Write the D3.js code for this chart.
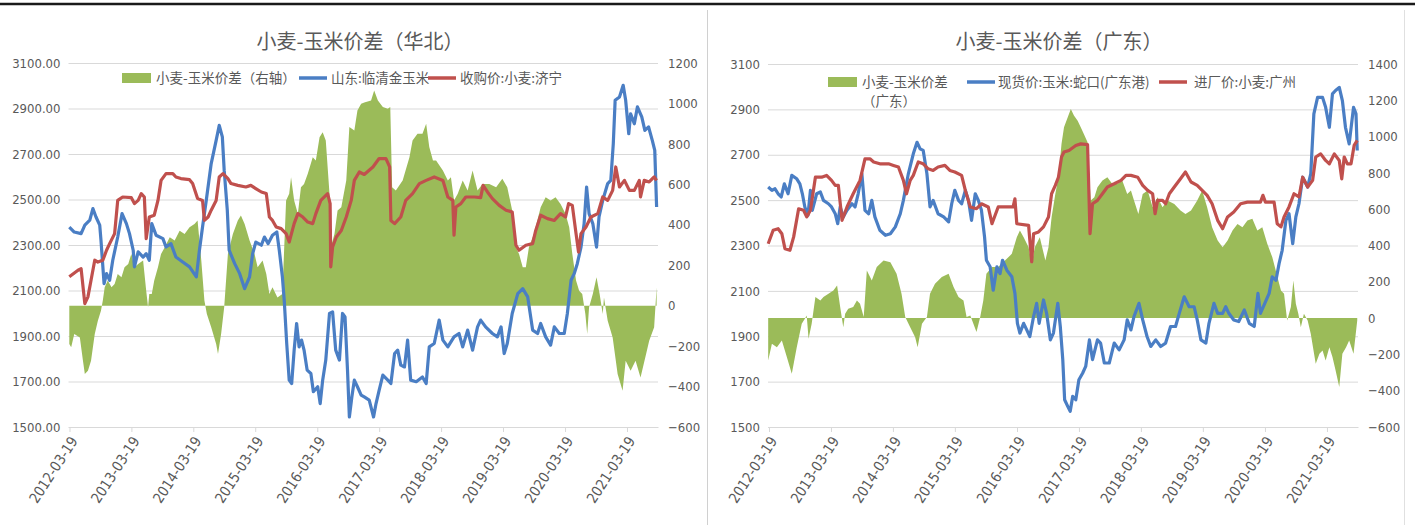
<!DOCTYPE html>
<html><head><meta charset="utf-8">
<script src="https://cdn.jsdelivr.net/npm/d3@7"></script>
<style>
body{margin:0;background:#fff;}
svg text{font-family:"Liberation Sans Narrow","DejaVu Sans Condensed","Liberation Sans",sans-serif;fill:#595959;}
svg text.cjk{font-family:"Noto Sans CJK SC",sans-serif;}
</style></head><body>
<svg id="c" width="1415" height="525"></svg>
<script>
// ---------- tick labels ----------
const xTickLabels = ["2012-03-19","2013-03-19","2014-03-19","2015-03-19","2016-03-19","2017-03-19","2018-03-19","2019-03-19","2020-03-19","2021-03-19"];
const xStart = "2012-03-19", xEnd = "2021-09-18";
const hbLeftTicks = [1500,1700,1900,2100,2300,2500,2700,2900,3100];
const hbRightTicks = [-600,-400,-200,0,200,400,600,800,1000,1200];
const gdLeftTicks = [1500,1700,1900,2100,2300,2500,2700,2900,3100];
const gdRightTicks = [-600,-400,-200,0,200,400,600,800,1000,1200,1400];

// ---------- 华北 (left chart): [decimal year, value] ----------
const hbSpread = [[2012.21,-190],[2012.24,-206],[2012.29,-140],[2012.38,-157],[2012.43,-272],[2012.46,-338],[2012.51,-322],[2012.56,-272],[2012.62,-140],[2012.67,-74],[2012.72,-25],[2012.75,25],[2012.78,91],[2012.83,124],[2012.89,91],[2012.94,107],[2012.99,157],[2013.05,140],[2013.10,190],[2013.16,206],[2013.21,256],[2013.26,190],[2013.32,206],[2013.40,223],[2013.45,74],[2013.48,-8],[2013.50,58],[2013.54,58],[2013.58,124],[2013.64,190],[2013.69,256],[2013.75,289],[2013.83,338],[2013.91,322],[2013.99,371],[2014.07,355],[2014.15,388],[2014.23,404],[2014.28,421],[2014.34,223],[2014.39,25],[2014.43,-41],[2014.50,-107],[2014.58,-190],[2014.61,-239],[2014.66,-140],[2014.71,-8],[2014.77,256],[2014.85,355],[2014.93,421],[2014.98,446],[2015.04,404],[2015.12,322],[2015.20,256],[2015.25,190],[2015.33,223],[2015.39,157],[2015.44,58],[2015.49,91],[2015.57,41],[2015.65,58],[2015.71,520],[2015.76,553],[2015.79,635],[2015.84,520],[2015.90,454],[2015.95,586],[2016.00,602],[2016.06,652],[2016.14,734],[2016.19,718],[2016.25,833],[2016.30,858],[2016.35,817],[2016.41,553],[2016.43,289],[2016.49,355],[2016.54,470],[2016.60,487],[2016.68,619],[2016.73,883],[2016.81,866],[2016.86,965],[2016.92,998],[2016.97,1005],[2017.08,1015],[2017.13,1064],[2017.19,1015],[2017.27,982],[2017.35,974],[2017.39,982],[2017.42,586],[2017.48,569],[2017.59,619],[2017.70,734],[2017.75,817],[2017.83,850],[2017.91,850],[2017.97,899],[2018.02,784],[2018.08,718],[2018.13,718],[2018.24,668],[2018.32,619],[2018.37,635],[2018.42,520],[2018.48,553],[2018.56,619],[2018.64,569],[2018.72,668],[2018.80,569],[2018.88,602],[2018.99,602],[2019.10,586],[2019.20,627],[2019.28,586],[2019.36,470],[2019.42,289],[2019.47,256],[2019.53,190],[2019.58,190],[2019.63,289],[2019.71,355],[2019.82,487],[2019.90,536],[2019.98,520],[2020.06,536],[2020.14,503],[2020.22,454],[2020.28,388],[2020.33,256],[2020.39,124],[2020.44,74],[2020.49,58],[2020.54,-41],[2020.57,-140],[2020.60,-8],[2020.66,58],[2020.72,140],[2020.77,58],[2020.82,-41],[2020.84,41],[2020.90,-74],[2020.98,-157],[2021.06,-338],[2021.14,-421],[2021.19,-272],[2021.27,-322],[2021.35,-272],[2021.43,-355],[2021.52,-239],[2021.57,-173],[2021.65,-107],[2021.69,91]];

const hbCorn = [[2012.21,2379],[2012.29,2357],[2012.40,2350],[2012.46,2387],[2012.54,2409],[2012.59,2460],[2012.64,2423],[2012.70,2387],[2012.72,2321],[2012.77,2130],[2012.81,2174],[2012.86,2145],[2012.91,2233],[2012.99,2335],[2013.06,2438],[2013.13,2394],[2013.18,2350],[2013.24,2277],[2013.26,2204],[2013.32,2270],[2013.40,2247],[2013.45,2262],[2013.50,2233],[2013.54,2394],[2013.61,2343],[2013.72,2328],[2013.77,2291],[2013.85,2306],[2013.93,2247],[2014.04,2225],[2014.15,2204],[2014.26,2160],[2014.31,2277],[2014.36,2379],[2014.42,2496],[2014.50,2658],[2014.58,2760],[2014.63,2826],[2014.68,2775],[2014.71,2628],[2014.76,2453],[2014.79,2277],[2014.88,2218],[2014.96,2174],[2015.04,2108],[2015.12,2160],[2015.17,2262],[2015.22,2313],[2015.31,2299],[2015.36,2335],[2015.42,2306],[2015.49,2343],[2015.56,2357],[2015.60,2277],[2015.65,2160],[2015.68,2057],[2015.72,1867],[2015.76,1706],[2015.80,1691],[2015.84,1838],[2015.88,1955],[2015.92,1852],[2015.96,1882],[2016.00,1838],[2016.05,1750],[2016.11,1735],[2016.15,1655],[2016.22,1677],[2016.26,1603],[2016.30,1706],[2016.35,1794],[2016.41,1999],[2016.46,2006],[2016.51,1838],[2016.57,1794],[2016.62,1999],[2016.66,1984],[2016.70,1750],[2016.73,1544],[2016.77,1632],[2016.81,1706],[2016.86,1677],[2016.92,1640],[2016.97,1632],[2017.05,1618],[2017.12,1544],[2017.16,1603],[2017.21,1661],[2017.27,1728],[2017.35,1706],[2017.40,1691],[2017.46,1823],[2017.51,1838],[2017.56,1772],[2017.62,1764],[2017.67,1882],[2017.72,1706],[2017.81,1699],[2017.91,1720],[2017.97,1691],[2018.02,1852],[2018.10,1867],[2018.18,1970],[2018.24,1882],[2018.32,1852],[2018.42,1896],[2018.50,1911],[2018.56,1852],[2018.64,1926],[2018.72,1838],[2018.80,1940],[2018.85,1970],[2018.93,1940],[2019.04,1911],[2019.12,1896],[2019.18,1940],[2019.23,1823],[2019.28,1867],[2019.36,1999],[2019.45,2086],[2019.53,2108],[2019.61,2072],[2019.69,1926],[2019.77,1911],[2019.82,1955],[2019.90,1896],[2019.98,1860],[2020.04,1940],[2020.12,1911],[2020.20,1911],[2020.25,1999],[2020.31,2145],[2020.36,2174],[2020.41,2218],[2020.47,2291],[2020.52,2394],[2020.56,2555],[2020.60,2438],[2020.66,2394],[2020.72,2291],[2020.76,2423],[2020.82,2496],[2020.90,2570],[2020.95,2584],[2020.99,2745],[2021.02,2936],[2021.09,2951],[2021.15,3002],[2021.19,2936],[2021.24,2789],[2021.27,2877],[2021.33,2833],[2021.38,2907],[2021.45,2863],[2021.50,2804],[2021.56,2819],[2021.62,2760],[2021.66,2716],[2021.69,2467]];

const hbWheat = [[2012.21,2160],[2012.35,2189],[2012.40,2196],[2012.46,2042],[2012.51,2072],[2012.56,2145],[2012.62,2233],[2012.67,2225],[2012.75,2233],[2012.81,2277],[2012.86,2306],[2012.94,2350],[2012.99,2496],[2013.07,2511],[2013.21,2508],[2013.26,2482],[2013.32,2496],[2013.37,2526],[2013.42,2511],[2013.45,2328],[2013.50,2423],[2013.58,2431],[2013.64,2496],[2013.69,2584],[2013.77,2614],[2013.88,2614],[2013.93,2599],[2014.01,2592],[2014.15,2587],[2014.20,2570],[2014.28,2504],[2014.36,2496],[2014.39,2408],[2014.45,2423],[2014.50,2453],[2014.58,2496],[2014.63,2599],[2014.69,2614],[2014.77,2592],[2014.82,2570],[2014.93,2562],[2015.06,2555],[2015.14,2562],[2015.22,2548],[2015.31,2533],[2015.39,2526],[2015.44,2423],[2015.49,2408],[2015.55,2379],[2015.63,2372],[2015.71,2350],[2015.76,2313],[2015.84,2394],[2015.90,2438],[2015.98,2423],[2016.06,2401],[2016.14,2394],[2016.19,2438],[2016.27,2496],[2016.38,2526],[2016.42,2482],[2016.43,2204],[2016.46,2291],[2016.52,2335],[2016.60,2364],[2016.68,2423],[2016.76,2496],[2016.81,2584],[2016.89,2621],[2016.97,2610],[2017.11,2643],[2017.21,2680],[2017.32,2680],[2017.38,2643],[2017.40,2408],[2017.46,2394],[2017.56,2423],[2017.64,2496],[2017.75,2526],[2017.86,2570],[2017.97,2584],[2018.10,2599],[2018.24,2584],[2018.32,2511],[2018.40,2496],[2018.42,2343],[2018.45,2467],[2018.53,2482],[2018.61,2511],[2018.75,2511],[2018.85,2508],[2018.89,2562],[2018.96,2533],[2019.04,2504],[2019.15,2474],[2019.26,2453],[2019.36,2445],[2019.42,2299],[2019.47,2277],[2019.58,2299],[2019.69,2306],[2019.74,2364],[2019.82,2431],[2019.93,2416],[2020.04,2408],[2020.14,2438],[2020.22,2423],[2020.27,2482],[2020.33,2474],[2020.39,2350],[2020.43,2269],[2020.47,2350],[2020.55,2379],[2020.63,2423],[2020.74,2438],[2020.82,2511],[2020.90,2496],[2020.98,2540],[2021.03,2643],[2021.09,2555],[2021.17,2584],[2021.25,2540],[2021.33,2540],[2021.41,2584],[2021.43,2511],[2021.49,2584],[2021.57,2577],[2021.65,2599],[2021.69,2584]];

// ---------- 广东 (right chart) ----------
const gdSpread = [[2012.20,-233],[2012.26,-141],[2012.34,-160],[2012.42,-123],[2012.50,-215],[2012.58,-306],[2012.66,-160],[2012.74,-31],[2012.79,-4],[2012.82,15],[2012.85,-114],[2012.90,-31],[2012.96,116],[2013.04,97],[2013.09,116],[2013.17,134],[2013.25,152],[2013.31,180],[2013.36,61],[2013.41,-50],[2013.44,24],[2013.49,51],[2013.57,61],[2013.63,97],[2013.68,79],[2013.74,6],[2013.79,262],[2013.87,207],[2013.95,281],[2014.06,317],[2014.17,308],[2014.27,244],[2014.35,134],[2014.41,6],[2014.49,-50],[2014.57,-105],[2014.61,-160],[2014.68,-31],[2014.76,6],[2014.81,134],[2014.89,189],[2015.00,226],[2015.11,244],[2015.19,171],[2015.27,116],[2015.35,97],[2015.40,6],[2015.46,15],[2015.51,-31],[2015.56,-77],[2015.62,6],[2015.67,97],[2015.72,244],[2015.81,281],[2015.91,281],[2016.02,317],[2016.13,354],[2016.21,446],[2016.26,483],[2016.32,446],[2016.40,391],[2016.45,299],[2016.50,391],[2016.58,446],[2016.67,317],[2016.72,391],[2016.77,556],[2016.83,684],[2016.88,776],[2016.93,960],[2016.97,1051],[2017.03,1107],[2017.08,1152],[2017.13,1116],[2017.19,1088],[2017.24,1051],[2017.29,1015],[2017.35,969],[2017.40,648],[2017.46,666],[2017.51,721],[2017.59,758],[2017.67,776],[2017.75,739],[2017.83,739],[2017.91,758],[2017.99,684],[2018.05,703],[2018.10,648],[2018.17,574],[2018.24,684],[2018.32,703],[2018.40,611],[2018.48,666],[2018.56,611],[2018.64,648],[2018.75,629],[2018.85,593],[2018.93,574],[2019.02,593],[2019.12,648],[2019.20,703],[2019.28,611],[2019.36,501],[2019.45,428],[2019.53,391],[2019.61,428],[2019.69,483],[2019.77,519],[2019.85,501],[2019.93,538],[2020.01,547],[2020.09,483],[2020.17,501],[2020.25,409],[2020.33,336],[2020.40,244],[2020.47,152],[2020.52,134],[2020.57,-13],[2020.63,61],[2020.67,207],[2020.71,79],[2020.75,24],[2020.79,-50],[2020.84,24],[2020.90,-13],[2020.95,-86],[2021.03,-251],[2021.09,-196],[2021.14,-178],[2021.19,-233],[2021.25,-160],[2021.30,-215],[2021.35,-288],[2021.41,-380],[2021.46,-196],[2021.52,-160],[2021.57,-123],[2021.64,-196],[2021.70,-13]];

const gdCorn = [[2012.20,2558],[2012.26,2543],[2012.31,2550],[2012.36,2528],[2012.41,2514],[2012.46,2572],[2012.52,2528],[2012.58,2609],[2012.66,2594],[2012.71,2572],[2012.75,2528],[2012.79,2470],[2012.84,2433],[2012.88,2543],[2012.91,2455],[2012.98,2528],[2013.04,2536],[2013.09,2499],[2013.17,2484],[2013.22,2470],[2013.28,2440],[2013.32,2396],[2013.36,2470],[2013.41,2426],[2013.47,2455],[2013.55,2484],[2013.60,2470],[2013.65,2528],[2013.71,2616],[2013.76,2455],[2013.82,2440],[2013.87,2499],[2013.92,2426],[2014.00,2367],[2014.09,2345],[2014.17,2352],[2014.25,2382],[2014.33,2440],[2014.38,2499],[2014.46,2616],[2014.54,2704],[2014.60,2755],[2014.65,2726],[2014.70,2719],[2014.76,2616],[2014.81,2470],[2014.86,2499],[2014.94,2440],[2015.03,2426],[2015.11,2404],[2015.16,2484],[2015.21,2543],[2015.27,2499],[2015.32,2484],[2015.38,2543],[2015.43,2499],[2015.48,2411],[2015.54,2528],[2015.59,2499],[2015.64,2455],[2015.69,2338],[2015.72,2235],[2015.78,2206],[2015.83,2103],[2015.89,2206],[2015.94,2176],[2015.98,2235],[2016.05,2191],[2016.13,2162],[2016.18,2089],[2016.22,1957],[2016.26,1914],[2016.32,1957],[2016.37,1928],[2016.42,1899],[2016.48,1987],[2016.53,2045],[2016.57,1957],[2016.64,2060],[2016.69,2001],[2016.75,1884],[2016.80,1914],[2016.87,2045],[2016.91,1943],[2016.95,1797],[2016.98,1620],[2017.03,1591],[2017.07,1569],[2017.11,1635],[2017.16,1620],[2017.21,1708],[2017.27,1737],[2017.32,1767],[2017.38,1884],[2017.43,1797],[2017.51,1884],[2017.56,1870],[2017.62,1782],[2017.70,1782],[2017.78,1870],[2017.86,1840],[2017.94,1884],[2017.99,1972],[2018.05,1928],[2018.10,1987],[2018.18,2045],[2018.24,1972],[2018.31,1899],[2018.37,1855],[2018.45,1884],[2018.53,1855],[2018.61,1870],[2018.69,1943],[2018.77,1943],[2018.83,2001],[2018.91,2074],[2018.99,2030],[2019.07,2030],[2019.12,1972],[2019.18,1884],[2019.26,1870],[2019.31,1957],[2019.39,2045],[2019.45,2001],[2019.53,2001],[2019.58,2030],[2019.63,2001],[2019.71,1972],[2019.79,1965],[2019.88,2016],[2019.96,1957],[2020.04,1943],[2020.10,2089],[2020.14,2001],[2020.21,2045],[2020.28,2089],[2020.33,2162],[2020.39,2147],[2020.44,2220],[2020.49,2279],[2020.55,2411],[2020.60,2440],[2020.66,2308],[2020.71,2426],[2020.76,2484],[2020.82,2601],[2020.90,2558],[2020.95,2616],[2021.00,2880],[2021.06,2953],[2021.14,2953],[2021.19,2909],[2021.25,2821],[2021.30,2968],[2021.35,2983],[2021.41,2997],[2021.46,2939],[2021.51,2821],[2021.57,2748],[2021.64,2909],[2021.68,2880],[2021.70,2719]];

const gdWheat = [[2012.20,2308],[2012.28,2367],[2012.36,2374],[2012.42,2352],[2012.47,2286],[2012.55,2279],[2012.61,2338],[2012.69,2462],[2012.77,2455],[2012.82,2426],[2012.88,2455],[2012.96,2601],[2013.06,2601],[2013.14,2609],[2013.22,2587],[2013.28,2565],[2013.33,2565],[2013.39,2411],[2013.47,2470],[2013.57,2528],[2013.68,2587],[2013.76,2682],[2013.84,2682],[2013.90,2668],[2014.00,2660],[2014.14,2660],[2014.22,2653],[2014.30,2646],[2014.38,2587],[2014.43,2528],[2014.49,2587],[2014.54,2609],[2014.62,2668],[2014.70,2660],[2014.78,2638],[2014.86,2631],[2014.94,2646],[2015.05,2653],[2015.13,2631],[2015.21,2624],[2015.32,2609],[2015.38,2543],[2015.46,2470],[2015.56,2462],[2015.64,2484],[2015.75,2470],[2015.81,2396],[2015.91,2470],[2016.15,2470],[2016.18,2506],[2016.21,2396],[2016.40,2389],[2016.42,2323],[2016.45,2228],[2016.48,2352],[2016.56,2360],[2016.64,2382],[2016.72,2426],[2016.77,2528],[2016.83,2565],[2016.88,2601],[2016.93,2690],[2016.97,2712],[2017.05,2719],[2017.16,2741],[2017.24,2748],[2017.35,2745],[2017.39,2352],[2017.43,2484],[2017.51,2499],[2017.59,2528],[2017.67,2558],[2017.78,2572],[2017.89,2587],[2017.97,2609],[2018.05,2609],[2018.16,2601],[2018.24,2565],[2018.32,2543],[2018.40,2528],[2018.44,2440],[2018.48,2499],[2018.56,2499],[2018.61,2484],[2018.67,2528],[2018.75,2558],[2018.85,2594],[2018.93,2624],[2019.02,2580],[2019.12,2565],[2019.20,2543],[2019.28,2521],[2019.36,2484],[2019.45,2411],[2019.53,2374],[2019.61,2426],[2019.71,2448],[2019.82,2484],[2019.93,2491],[2020.14,2491],[2020.18,2521],[2020.22,2491],[2020.36,2491],[2020.41,2396],[2020.47,2382],[2020.52,2426],[2020.60,2470],[2020.68,2528],[2020.76,2514],[2020.82,2601],[2020.90,2558],[2020.98,2587],[2021.03,2690],[2021.11,2704],[2021.19,2675],[2021.25,2660],[2021.33,2704],[2021.41,2675],[2021.45,2594],[2021.49,2690],[2021.54,2660],[2021.60,2660],[2021.65,2741],[2021.70,2763]];

// ---------- helpers ----------
const parseDay = d3.timeParse("%Y-%m-%d");
function decToDate(d){
  const y = Math.floor(d);
  const a = new Date(y,0,1), b = new Date(y+1,0,1);
  return new Date(+a + (d - y) * (b - a));
}
const GREEN = "#9BBB59", BLUE = "#4A7EC4", RED = "#C0504D", GRID = "#d9d9d9", TXT = "#595959";
const svg = d3.select("#c");

// page decorations
svg.append("line").attr("x1",0).attr("x2",1415).attr("y1",4).attr("y2",4).attr("stroke","#1a1a1a").attr("stroke-width",2.5);
svg.append("line").attr("x1",707.5).attr("x2",707.5).attr("y1",10).attr("y2",525).attr("stroke","#d0d0d0").attr("stroke-width",1);
svg.append("line").attr("x1",1404.5).attr("x2",1404.5).attr("y1",10).attr("y2",525).attr("stroke","#e0e0e0").attr("stroke-width",1);

function drawChart(cfg){
  const g = svg.append("g");
  const x = d3.scaleTime().domain([parseDay(xStart), parseDay(xEnd)]).range([cfg.x0, cfg.x1]);
  const yL = d3.scaleLinear().domain([1500,3100]).range([cfg.yBot, cfg.yTop]);
  const yR = d3.scaleLinear().domain(cfg.rDomain).range([cfg.yBot, cfg.yTop]);

  // left axis + gridlines
  const ax = g.append("g").attr("transform",`translate(${cfg.x0-1},0)`)
    .call(d3.axisLeft(yL).tickValues(cfg.lTicks).tickFormat(cfg.lFmt)
      .tickSize(-(cfg.x1-cfg.x0+1)).tickPadding(8));
  ax.select(".domain").remove();
  ax.selectAll(".tick line").attr("stroke",GRID);
  ax.selectAll(".tick text").attr("font-size",13).attr("fill",TXT);

  // right axis
  const ar = g.append("g").attr("transform",`translate(${cfg.x1},0)`)
    .call(d3.axisRight(yR).tickValues(cfg.rTicks).tickFormat(d3.format("d")).tickSize(0).tickPadding(10));
  ar.select(".domain").remove();
  ar.selectAll(".tick text").attr("font-size",13).attr("fill",TXT);

  // bottom axis
  const ab = g.append("g").attr("transform",`translate(0,${cfg.yBot})`)
    .call(d3.axisBottom(x).tickValues(xTickLabels.map(parseDay))
      .tickFormat(d3.timeFormat("%Y-%m-%d")).tickSize(5).tickSizeOuter(0));
  ab.select(".domain").attr("stroke",GRID);
  ab.selectAll(".tick line").attr("stroke",GRID);
  ab.selectAll(".tick text").attr("font-size",14.5).attr("fill",TXT)
    .attr("text-anchor","end").attr("x",0).attr("y",0).attr("dy","0.35em")
    .attr("transform","translate(4,11) rotate(-57)");

  // area
  const area = d3.area().x(d=>x(decToDate(d[0]))).y0(yR(0)).y1(d=>yR(d[1]));
  g.append("path").datum(cfg.spread).attr("d",area).attr("fill",GREEN);

  const line = d3.line().x(d=>x(decToDate(d[0]))).y(d=>yL(d[1]));
  g.append("path").datum(cfg.corn).attr("d",line).attr("fill","none")
    .attr("stroke",BLUE).attr("stroke-width",3.2).attr("stroke-linejoin","round");
  g.append("path").datum(cfg.wheat).attr("d",line).attr("fill","none")
    .attr("stroke",RED).attr("stroke-width",3.2).attr("stroke-linejoin","round");

  // title
  g.append("text").attr("class","cjk").attr("x",cfg.titleX).attr("y",49)
    .attr("text-anchor","middle").attr("font-size",20).attr("fill",TXT).text(cfg.title);

  // legend
  cfg.legend.forEach(it=>{
    if(it.type==="rect"){
      g.append("rect").attr("x",it.x).attr("y",it.y-5).attr("width",29).attr("height",10).attr("fill",it.color);
    } else {
      g.append("line").attr("x1",it.x).attr("x2",it.x+28).attr("y1",it.y).attr("y2",it.y)
        .attr("stroke",it.color).attr("stroke-width",3.5);
    }
    it.text.forEach((t,i)=>{
      g.append("text").attr("class","cjk").attr("x",it.tx).attr("y",it.y+5+i*19)
        .attr("font-size",13.5).attr("fill",TXT).text(t);
    });
  });
}

drawChart({
  x0:69.5, x1:658, yTop:63, yBot:427, rDomain:[-600,1200],
  lTicks:hbLeftTicks, rTicks:hbRightTicks, lFmt:d3.format(".2f"),
  spread:hbSpread, corn:hbCorn, wheat:hbWheat,
  title:"小麦-玉米价差（华北）", titleX:360,
  legend:[
    {type:"rect", x:122, y:78, tx:156, color:GREEN, text:["小麦-玉米价差（右轴）"]},
    {type:"line", x:299, y:78, tx:331, color:BLUE, text:["山东:临清金玉米"]},
    {type:"line", x:428, y:78, tx:460, color:RED, text:["收购价:小麦:济宁"]}
  ]
});

drawChart({
  x0:769, x1:1358, yTop:64, yBot:427, rDomain:[-600,1400],
  lTicks:gdLeftTicks, rTicks:gdRightTicks, lFmt:d3.format("d"),
  spread:gdSpread, corn:gdCorn, wheat:gdWheat,
  title:"小麦-玉米价差（广东）", titleX:1059,
  legend:[
    {type:"rect", x:828, y:82, tx:862, color:GREEN, text:["小麦-玉米价差","（广东）"]},
    {type:"line", x:967, y:82, tx:998, color:BLUE, text:["现货价:玉米:蛇口(广东港)"]},
    {type:"line", x:1159, y:82, tx:1194, color:RED, text:["进厂价:小麦:广州"]}
  ]
});
</script>
</body></html>
